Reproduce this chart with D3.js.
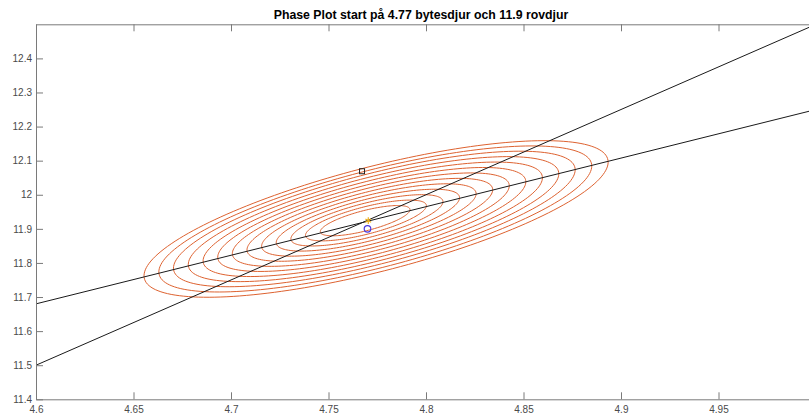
<!DOCTYPE html>
<html><head><meta charset="utf-8">
<script src="https://cdn.jsdelivr.net/npm/d3@7"></script>
<style>body{margin:0;background:#fff;overflow:hidden}svg{display:block}</style>
</head><body>
<svg id="c" width="809" height="415"></svg>
<script>
// ---- data ----
const titleText = "Phase Plot start på 4.77 bytesdjur och 11.9 rovdjur";
const xTicks = [4.6, 4.65, 4.7, 4.75, 4.8, 4.85, 4.9, 4.95];
const xTickLabels = ["4.6", "4.65", "4.7", "4.75", "4.8", "4.85", "4.9", "4.95"];
const yTicks = [11.4, 11.5, 11.6, 11.7, 11.8, 11.9, 12, 12.1, 12.2, 12.3, 12.4];
const yTickLabels = ["11.4", "11.5", "11.6", "11.7", "11.8", "11.9", "12", "12.1", "12.2", "12.3", "12.4"];
const xDomain = [4.6, 5.0];
const yDomain = [11.4, 12.5];

// straight reference lines (x at both ends, y at both ends)
const steepLineX = [4.6, 5.0];
const steepLineY = [11.5, 12.5];
const flatLineX = [4.6, 5.0];
const flatLineY = [11.68, 12.25];

// orbit rings: centre and x semi-amplitude of each ring
const ringCx = [4.7688, 4.7692, 4.7697, 4.7702, 4.7707, 4.7712, 4.7717, 4.7722, 4.7727, 4.7731, 4.7735, 4.7740, 4.7744];
const ringCy = [11.924, 11.9245, 11.925, 11.9255, 11.926, 11.9265, 11.927, 11.9275, 11.928, 11.9285, 11.929, 11.929, 11.929];
const ringAx = [0.023, 0.031, 0.039, 0.047, 0.055, 0.063, 0.071, 0.079, 0.087, 0.095, 0.103, 0.111, 0.119];
const ringAspect = 1.93;      // y amplitude / x amplitude
const ringPhaseDeg = 43.5;    // phase lag of y relative to x

const startPt = [4.77, 11.9];
const equilPt = [4.7704, 11.924];
const squarePt = [4.7672, 12.069];

// ---- chart ----
const svg = d3.select("#c");
const x = d3.scaleLinear().domain(xDomain).range([36, 816]);
const y = d3.scaleLinear().domain(yDomain).range([399.3, 24.3]);

svg.append("defs").append("clipPath").attr("id", "clip")
  .append("rect").attr("x", 36).attr("y", 24.3).attr("width", 780).attr("height", 375);

const plot = svg.append("g").attr("clip-path", "url(#clip)");

// rings
const phi = ringPhaseDeg * Math.PI / 180;
const thetas = d3.range(0, 361, 2).map(d => d * Math.PI / 180);
const line = d3.line().x(d => x(d[0])).y(d => y(d[1]));
ringAx.forEach((A, i) => {
  const B = A * ringAspect;
  const pts = thetas.map(t => [ringCx[i] + A * Math.cos(t), ringCy[i] + B * Math.cos(t + phi)]);
  plot.append("path").attr("d", line(pts) + "Z")
    .attr("fill", "none").attr("stroke", "#DD6230").attr("stroke-width", 1);
});

// straight lines
plot.append("path").attr("d", line([[steepLineX[0], steepLineY[0]], [steepLineX[1], steepLineY[1]]]))
  .attr("stroke", "#1a1a1a").attr("stroke-width", 1).attr("fill", "none");
plot.append("path").attr("d", line([[flatLineX[0], flatLineY[0]], [flatLineX[1], flatLineY[1]]]))
  .attr("stroke", "#1a1a1a").attr("stroke-width", 1).attr("fill", "none");

// markers
plot.append("rect")
  .attr("x", x(squarePt[0]) - 2.5).attr("y", y(squarePt[1]) - 2.5)
  .attr("width", 5).attr("height", 5)
  .attr("fill", "none").attr("stroke", "#222").attr("stroke-width", 1);
plot.append("circle")
  .attr("cx", x(startPt[0])).attr("cy", y(startPt[1])).attr("r", 3.3)
  .attr("fill", "none").attr("stroke", "#4a3ae0").attr("stroke-width", 1.2);
plot.append("path")
  .attr("transform", `translate(${x(equilPt[0])},${y(equilPt[1])})`)
  .attr("d", d3.symbol(d3.symbolAsterisk, 30)())
  .attr("fill", "none").attr("stroke", "#EDB120").attr("stroke-width", 1.2);

// axes
const axColor = "#7a7a7a";
const font = "'Liberation Sans', Arial, sans-serif";
function styleAxis(g) {
  g.select(".domain").attr("stroke", axColor).attr("stroke-width", 1);
  g.selectAll(".tick line").attr("stroke", axColor).attr("stroke-width", 1);
  g.selectAll(".tick text").attr("fill", "#4a4a4a").attr("font-family", font).attr("font-size", 10);
}
const gx = svg.append("g").attr("transform", "translate(0,399.3)")
  .call(d3.axisBottom(x).tickValues(xTicks).tickFormat((d, i) => xTickLabels[i])
    .tickSizeInner(-7).tickSizeOuter(0).tickPadding(7));
styleAxis(gx);
const gt = svg.append("g").attr("transform", "translate(0,24.3)")
  .call(d3.axisTop(x).tickValues(xTicks).tickFormat("").tickSizeInner(-7).tickSizeOuter(0));
styleAxis(gt);
const gy = svg.append("g").attr("transform", "translate(36,0)")
  .call(d3.axisLeft(y).tickValues(yTicks).tickFormat((d, i) => yTickLabels[i])
    .tickSizeInner(-7).tickSizeOuter(0).tickPadding(4));
styleAxis(gy);

// title
svg.append("text").attr("x", 421).attr("y", 19.3).attr("text-anchor", "middle")
  .attr("font-family", font).attr("font-weight", "bold").attr("font-size", 12.3)
  .attr("fill", "#000").text(titleText);
</script>
</body></html>
